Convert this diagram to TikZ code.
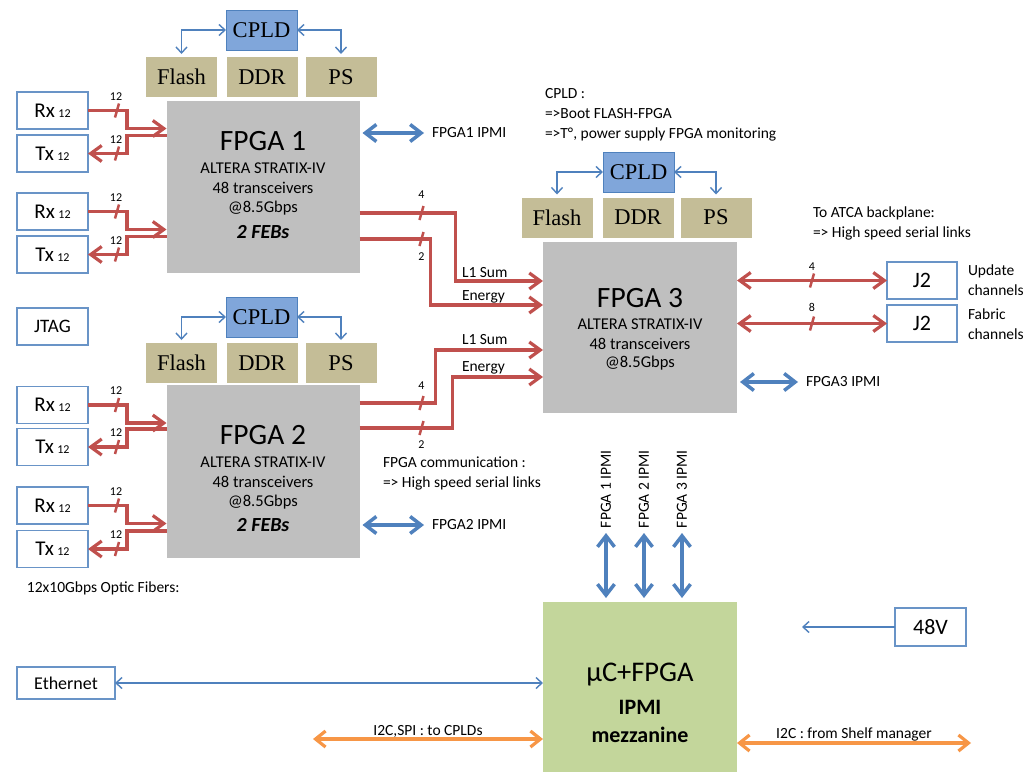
\documentclass[tikz,border=0pt]{standalone}
\usepackage{fontspec}
\setmainfont{Carlito}
\newfontfamily\serifface{Liberation Serif}
\usetikzlibrary{arrows.meta,calc}

\definecolor{fpgagray}{HTML}{BFBFBF}
\definecolor{memtan}{HTML}{C4BD97}
\definecolor{cpldfill}{RGB}{128,166,218}
\definecolor{cpldedge}{HTML}{4F81BD}
\definecolor{mezzgreen}{HTML}{C3D69B}
\definecolor{linkred}{HTML}{C0504D}
\definecolor{ctrlblue}{HTML}{4F81BD}
\definecolor{busorange}{HTML}{F79646}

% Rx/Tx fibre pair between two port boxes and an FPGA
\newcommand{\fiberpair}[3]{%
  \path (#3.west |- #1.east) ++(0,18) coordinate (#1-in);
  \path (#3.west |- #2.east) ++(0,-18) coordinate (#2-out);
  \draw[fiber,->] (#1.east) -- ++(39,0) |- (#1-in);
  \draw[fiber,->] (#2-out) -| ($(#2.east)+(39,0)$) -- (#2.east);
  \draw[slashmark] ($(#1.east)+(29,0)$) ++(-2,7) -- ++(4,-14);
  \draw[slashmark] ($(#2.east)+(29,0)$) ++(-2,7) -- ++(4,-14);
  \node[countlbl] at ($(#1.east)+(28,-14)$) {12};
  \node[countlbl] at ($(#2.east)+(28,-14)$) {12};
}

% Memory/PS row with its CPLD above it
\newcommand{\cpldgroup}[5]{% #1 suffix, #2 cpld centre, #3 flash, #4 ddr, #5 ps
  \node[cpldbox] (cpld#1) at #2 {CPLD};
  \node[membox] (flash#1) at #3 {Flash};
  \node[membox] (ddr#1) at #4 {DDR};
  \node[membox] (ps#1) at #5 {PS};
  \draw[thinblue,<->,shorten >=3pt] (cpld#1.west) -| (flash#1.north);
  \draw[thinblue,<->,shorten >=3pt] (cpld#1.east) -| (ps#1.north);
}

\begin{document}
\begin{tikzpicture}[x=1pt,y=-1pt,
  every node/.style={inner sep=0pt, outer sep=0pt},
  lbl/.style={font=\fontsize{15.5}{20}\selectfont},
  countlbl/.style={font=\fontsize{12}{12}\selectfont},
  portbox/.style={draw=ctrlblue!85, line width=1.3pt, fill=white,
    minimum width=71pt, minimum height=37pt},
  chip/.style={fill=fpgagray, minimum width=193pt, minimum height=172pt},
  cpldbox/.style={draw=cpldedge, line width=1pt, fill=cpldfill,
    minimum width=71pt, minimum height=40pt,
    font=\serifface\fontsize{22.5}{22.5}\selectfont},
  membox/.style={fill=memtan, minimum width=71pt, minimum height=40pt,
    font=\serifface\fontsize{22.5}{22.5}\selectfont},
  fiber/.style={draw=linkred, line width=3.2pt,
    >={Straight Barb[length=11pt,width=16pt]}},
  slashmark/.style={draw=linkred, line width=2.5pt},
  ipmilink/.style={draw=ctrlblue, line width=3.5pt, <->,
    >={Straight Barb[length=11pt,width=17pt]}},
  thinblue/.style={draw=ctrlblue, line width=1.4pt,
    >={Straight Barb[length=6pt,width=11pt]}},
  bus/.style={draw=busorange, line width=3.2pt, <->,
    >={Straight Barb[length=10pt,width=16pt]}},
  title/.style={font=\fontsize{29.5}{29.5}\selectfont},
  spec/.style={font=\fontsize{16.5}{16.5}\selectfont},
  febs/.style={font=\fontsize{20}{20}\selectfont\bfseries\itshape},
]
\useasboundingbox (0,0) rectangle (1032,771);
\fill[white] (0,0) rectangle (1032,771);

% ---------- FPGA 1 ----------
\cpldgroup{A}{(261.5,30)}{(181.5,77)}{(262,77)}{(341,77)}
\node[chip] (fpga1) at (263,187) {};
\node[title] at ($(fpga1.north)+(0,40)$) {FPGA 1};
\node[spec] at ($(fpga1.north)+(0,67)$) {ALTERA STRATIX-IV};
\node[spec] at ($(fpga1.north)+(0,87)$) {48 transceivers};
\node[spec] at ($(fpga1.north)+(0,107)$) {@8.5Gbps};
\node[febs] at ($(fpga1.north)+(0,131)$) {2 FEBs};

\node[portbox] (rx1) at (52.5,110.5) {\fontsize{21}{21}\selectfont Rx\,{\fontsize{12}{12}\selectfont 12}};
\node[portbox] (tx1) at (52.5,153.5) {\fontsize{21}{21}\selectfont Tx\,{\fontsize{12}{12}\selectfont 12}};
\node[portbox] (rx2) at (52.5,211.5) {\fontsize{21}{21}\selectfont Rx\,{\fontsize{12}{12}\selectfont 12}};
\node[portbox] (tx2) at (52.5,254.5) {\fontsize{21}{21}\selectfont Tx\,{\fontsize{12}{12}\selectfont 12}};
\fiberpair{rx1}{tx1}{fpga1}
\fiberpair{rx2}{tx2}{fpga1}

\node[lbl, anchor=west] (ip1) at (432,133) {FPGA1 IPMI};
\draw[ipmilink, shorten <=3pt, shorten >=8pt] (fpga1.east |- ip1.west) -- (ip1.west);

% ---------- JTAG ----------
\node[portbox, font=\fontsize{19}{19}\selectfont] (jtag) at (52.5,326.5) {JTAG};

% ---------- FPGA 2 ----------
\cpldgroup{B}{(261.5,317)}{(181.5,363)}{(262,363)}{(341,363)}
\node[chip, minimum height=173pt] (fpga2) at (263,471.5) {};
\node[title] at ($(fpga2.north)+(0,50)$) {FPGA 2};
\node[spec] at ($(fpga2.north)+(0,77)$) {ALTERA STRATIX-IV};
\node[spec] at ($(fpga2.north)+(0,97)$) {48 transceivers};
\node[spec] at ($(fpga2.north)+(0,117)$) {@8.5Gbps};
\node[febs] at ($(fpga2.north)+(0,140)$) {2 FEBs};

\node[portbox] (rx3) at (52.5,405) {\fontsize{21}{21}\selectfont Rx\,{\fontsize{12}{12}\selectfont 12}};
\node[portbox] (tx3) at (52.5,447) {\fontsize{21}{21}\selectfont Tx\,{\fontsize{12}{12}\selectfont 12}};
\node[portbox] (rx4) at (52.5,505.5) {\fontsize{21}{21}\selectfont Rx\,{\fontsize{12}{12}\selectfont 12}};
\node[portbox] (tx4) at (52.5,549) {\fontsize{21}{21}\selectfont Tx\,{\fontsize{12}{12}\selectfont 12}};
\fiberpair{rx3}{tx3}{fpga2}
\fiberpair{rx4}{tx4}{fpga2}

\node[lbl, anchor=west] (ip2) at (432,525) {FPGA2 IPMI};
\draw[ipmilink, shorten <=3pt, shorten >=8pt] (fpga2.east |- ip2.west) -- (ip2.west);

\node[lbl, anchor=west] at (27,588) {12x10Gbps Optic Fibers:};

% ---------- FPGA 3 ----------
\node[lbl, anchor=north west, align=left] (cpldnote) at (545,88)
  {CPLD :\\=>Boot FLASH-FPGA\\=>T°, power supply FPGA monitoring};
\cpldgroup{C}{(638.5,172)}{(557,217.5)}{(638,217.5)}{(716,217.5)}
\node[chip, minimum width=194pt, minimum height=171pt] (fpga3) at (640,327.5) {};
\node[title] at ($(fpga3.north)+(0,56)$) {FPGA 3};
\node[spec] at ($(fpga3.north)+(0,82)$) {ALTERA STRATIX-IV};
\node[spec] at ($(fpga3.north)+(0,102)$) {48 transceivers};
\node[spec] at ($(fpga3.north)+(0,121)$) {@8.5Gbps};

% FPGA 1/2 -> FPGA 3 links
\draw[fiber,->] ($(fpga1.north east)+(0,112)$) -- ++(96,0) |- ($(fpga3.north west)+(0,39)$);
\draw[fiber,->] ($(fpga1.north east)+(0,138)$) -- ++(71,0) |- ($(fpga3.north west)+(0,63)$);
\draw[fiber,->] ($(fpga2.north east)+(0,18)$) -- ++(76,0) |- ($(fpga3.north west)+(0,108)$);
\draw[fiber,->] ($(fpga2.north east)+(0,43)$) -- ++(93,0) |- ($(fpga3.north west)+(0,135)$);
\foreach \dy/\n/\ly in {112/4/-18, 138/2/18} {
  \draw[slashmark] ($(fpga1.north east)+(62,\dy)$) ++(-2,7) -- ++(4,-14);
  \node[countlbl] at ($(fpga1.north east)+(62,\dy+\ly)$) {\n};
}
\foreach \dy/\n/\ly in {18/4/-17, 43/2/17} {
  \draw[slashmark] ($(fpga2.north east)+(62,\dy)$) ++(-2,7) -- ++(4,-14);
  \node[countlbl] at ($(fpga2.north east)+(62,\dy+\ly)$) {\n};
}
\node[lbl, anchor=west] at ($(fpga3.north west)+(-81,31)$) {L1 Sum};
\node[lbl, anchor=west] at ($(fpga3.north west)+(-81,55)$) {Energy};
\node[lbl, anchor=west] at ($(fpga3.north west)+(-81,98)$) {L1 Sum};
\node[lbl, anchor=west] at ($(fpga3.north west)+(-81,126)$) {Energy};

\node[lbl, anchor=west, align=left] at (383,473)
  {FPGA communication :\\=> High speed serial links};

% backplane J2 connectors
\node[lbl, anchor=west, align=left] at (813,223)
  {To ATCA backplane:\\=> High speed serial links};
\node[portbox, minimum width=70pt, font=\fontsize{22}{22}\selectfont] (j2a) at (922,280.5) {J2};
\node[portbox, minimum width=70pt, font=\fontsize{22}{22}\selectfont] (j2b) at (922,323.5) {J2};
\draw[fiber,<->] (fpga3.east |- j2a.west) -- coordinate[midway] (j2a-mid) (j2a.west);
\draw[fiber,<->] (fpga3.east |- j2b.west) -- coordinate[midway] (j2b-mid) (j2b.west);
\draw[slashmark] (j2a-mid) ++(-2,7) -- ++(4,-14);
\draw[slashmark] (j2b-mid) ++(-2,7) -- ++(4,-14);
\node[countlbl] at ($(j2a-mid)+(0,-14)$) {4};
\node[countlbl] at ($(j2b-mid)+(0,-16)$) {8};
\node[lbl, anchor=west, align=left] at (968,280) {Update\\channels};
\node[lbl, anchor=west, align=left] at (968,324.5) {Fabric\\channels};

\node[lbl, anchor=west] (ip3) at (806,382) {FPGA3 IPMI};
\draw[ipmilink, shorten <=3pt, shorten >=8pt] (fpga3.east |- ip3.west) -- (ip3.west);

% ---------- IPMI mezzanine ----------
\node[fill=mezzgreen, minimum width=194pt, minimum height=170pt] (ipmi) at (640,687) {};
\node[font=\fontsize{28.5}{28.5}\selectfont] at ($(ipmi.north)+(0,73)$) {µC+FPGA};
\node[font=\fontsize{22}{22}\selectfont\bfseries] at ($(ipmi.north)+(0,105)$) {IPMI};
\node[font=\fontsize{22}{22}\selectfont\bfseries] at ($(ipmi.north)+(0,133)$) {mezzanine};

\foreach \i/\x in {1/606, 2/644, 3/682} {
  \node[lbl, rotate=90, anchor=west] (vlab\i) at (\x,528) {FPGA \i\ IPMI};
  \draw[ipmilink, shorten <=5pt, shorten >=4pt] (vlab\i.west) -- (vlab\i.west |- ipmi.north);
}

\node[portbox, minimum width=98pt, minimum height=32pt, font=\fontsize{18}{18}\selectfont] (eth) at (66,683) {Ethernet};
\draw[thinblue,<->] (eth.east) -- (eth.east -| ipmi.west);

\coordinate (cpldbus) at (313,739);
\draw[bus] (cpldbus) -- node[midway, anchor=base, yshift=4pt, lbl] {I2C,SPI : to CPLDs} (cpldbus -| ipmi.west);

\coordinate (shelfbus) at (971,743);
\draw[bus] (ipmi.east |- shelfbus) -- node[midway, anchor=base, yshift=5pt, lbl] {I2C : from Shelf manager} (shelfbus);

\node[portbox, minimum height=38pt, font=\fontsize{22}{22}\selectfont] (v48) at (930.5,627) {48V};
\coordinate (pwrend) at (802,627);
\draw[thinblue,->] (v48.west) -- (pwrend);
\end{tikzpicture}
\end{document}
